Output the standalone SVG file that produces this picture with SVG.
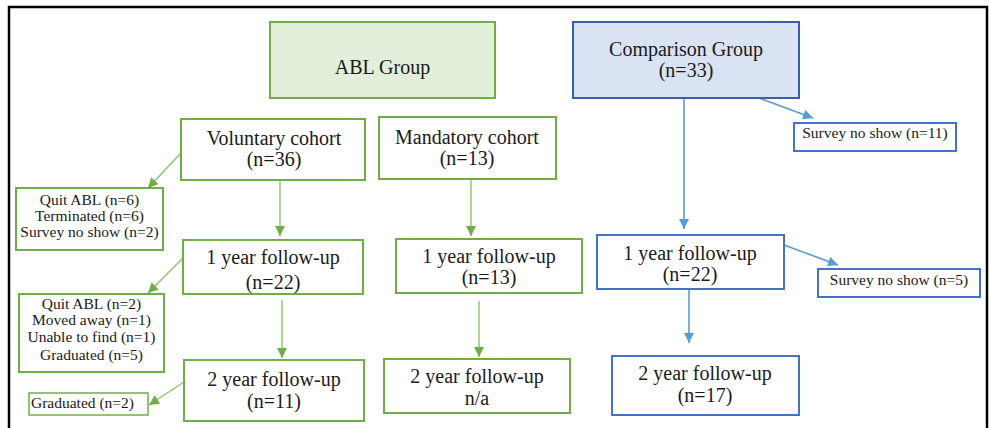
<svg xmlns="http://www.w3.org/2000/svg" width="990" height="428" viewBox="0 0 990 428" font-family="'Liberation Serif', 'Times New Roman', serif">
<defs>
<style>
.bg{fill:#ffffff}
.frame{fill:none;stroke:#000;stroke-width:2.5}
.g{fill:#fff;stroke:#70ad47;stroke-width:2}
.gf{fill:#e2efda;stroke:#70ad47;stroke-width:2}
.b{fill:#fff;stroke:#4472c4;stroke-width:2}
.bf{fill:#dae3f3;stroke:#3a5fa8;stroke-width:2}
text{font-family:'Liberation Serif','Times New Roman',serif;fill:#1a1a1a;text-anchor:middle}
.t{font-size:20px}
.s{font-size:15.5px}
.gl{fill:none;stroke:#8cc46a;stroke-width:1.4}
.bl{fill:none;stroke:#5b9bd5;stroke-width:1.6}
</style>
<marker id="ag" viewBox="0 0 10 10" refX="10" refY="5" markerWidth="11" markerHeight="10" markerUnits="userSpaceOnUse" orient="auto">
<path d="M0,0 L10,5 L0,10 Z" fill="#70ad47"/>
</marker>
<marker id="ab" viewBox="0 0 10 10" refX="10" refY="5" markerWidth="11" markerHeight="10" markerUnits="userSpaceOnUse" orient="auto">
<path d="M0,0 L10,5 L0,10 Z" fill="#5b9bd5"/>
</marker>
</defs>
<rect class="bg" x="0" y="0" width="990" height="428"/>
<rect class="frame" x="9" y="7" width="978" height="430"/>

<g id="connectors">
<line class="gl" x1="181" y1="153" x2="148" y2="188" marker-end="url(#ag)"/>
<line class="gl" x1="280" y1="180" x2="280" y2="236" marker-end="url(#ag)"/>
<line class="gl" x1="471" y1="179" x2="471" y2="236" marker-end="url(#ag)"/>
<line class="gl" x1="183" y1="258" x2="148" y2="293" marker-end="url(#ag)"/>
<line class="gl" x1="282" y1="300" x2="282" y2="358" marker-end="url(#ag)"/>
<line class="gl" x1="479" y1="301" x2="479" y2="357" marker-end="url(#ag)"/>
<line class="gl" x1="184" y1="382" x2="149" y2="405" marker-end="url(#ag)"/>
<line class="bl" x1="684" y1="98" x2="684" y2="229" marker-end="url(#ab)"/>
<line class="bl" x1="759" y1="98" x2="813" y2="118" marker-end="url(#ab)"/>
<line class="bl" x1="784" y1="245" x2="838" y2="265" marker-end="url(#ab)"/>
<line class="bl" x1="689" y1="289" x2="689" y2="343" marker-end="url(#ab)"/>
</g>

<g id="abl-group">
<rect class="gf" x="270" y="22" width="225" height="76"/>
<text class="t" x="382.5" y="74">ABL Group</text>
</g>
<g id="comparison-group">
<rect class="bf" x="573" y="22" width="226" height="76"/>
<text class="t" x="686" y="56">Comparison Group</text>
<text class="t" x="686" y="77">(n=33)</text>
</g>
<g id="voluntary-cohort">
<rect class="g" x="181" y="119" width="184" height="61"/>
<text class="t" x="274" y="145">Voluntary cohort</text>
<text class="t" x="274" y="166">(n=36)</text>
</g>
<g id="mandatory-cohort">
<rect class="g" x="379" y="117" width="177" height="62"/>
<text class="t" x="467" y="144">Mandatory cohort</text>
<text class="t" x="467" y="165">(n=13)</text>
</g>
<g id="vol-exit-1">
<rect class="g" x="16" y="188" width="147" height="62"/>
<text class="s" x="89.5" y="205">Quit ABL (n=6)</text>
<text class="s" x="89.5" y="221">Terminated (n=6)</text>
<text class="s" x="89.5" y="237">Survey no show (n=2)</text>
</g>
<g id="vol-1yr">
<rect class="g" x="183" y="240" width="180" height="54"/>
<text class="t" x="273" y="264">1 year follow-up</text>
<text class="t" x="273" y="289">(n=22)</text>
</g>
<g id="mand-1yr">
<rect class="g" x="396" y="239" width="186" height="54"/>
<text class="t" x="489" y="263">1 year follow-up</text>
<text class="t" x="489" y="284">(n=13)</text>
</g>
<g id="comp-exit-1">
<rect class="b" x="794" y="123" width="162" height="28"/>
<text class="s" x="875" y="138">Survey no show (n=11)</text>
</g>
<g id="comp-1yr">
<rect class="b" x="597" y="235" width="187" height="54"/>
<text class="t" x="690" y="260">1 year follow-up</text>
<text class="t" x="690" y="281">(n=22)</text>
</g>
<g id="comp-exit-2">
<rect class="b" x="818" y="269" width="162" height="28"/>
<text class="s" x="899" y="285">Survey no show (n=5)</text>
</g>
<g id="vol-exit-2">
<rect class="g" x="19" y="294" width="145" height="78"/>
<text class="s" x="91.5" y="309">Quit ABL (n=2)</text>
<text class="s" x="91.5" y="325">Moved away (n=1)</text>
<text class="s" x="91.5" y="342">Unable to find (n=1)</text>
<text class="s" x="91.5" y="360">Graduated (n=5)</text>
</g>
<g id="vol-2yr">
<rect class="g" x="184" y="360" width="180" height="61"/>
<text class="t" x="274" y="386">2 year follow-up</text>
<text class="t" x="274" y="408">(n=11)</text>
</g>
<g id="vol-exit-3">
<rect x="29" y="393" width="119" height="22" fill="#fff" stroke="#70ad47" stroke-width="1.5"/>
<text class="s" x="31" y="408" style="text-anchor:start">Graduated (n=2)</text>
</g>
<g id="mand-2yr">
<rect class="g" x="384" y="359" width="186" height="54"/>
<text class="t" x="477" y="383">2 year follow-up</text>
<text class="t" x="477" y="405">n/a</text>
</g>
<g id="comp-2yr">
<rect class="b" x="612" y="356" width="187" height="59"/>
<text class="t" x="705" y="380">2 year follow-up</text>
<text class="t" x="705" y="402">(n=17)</text>
</g>
</svg>
